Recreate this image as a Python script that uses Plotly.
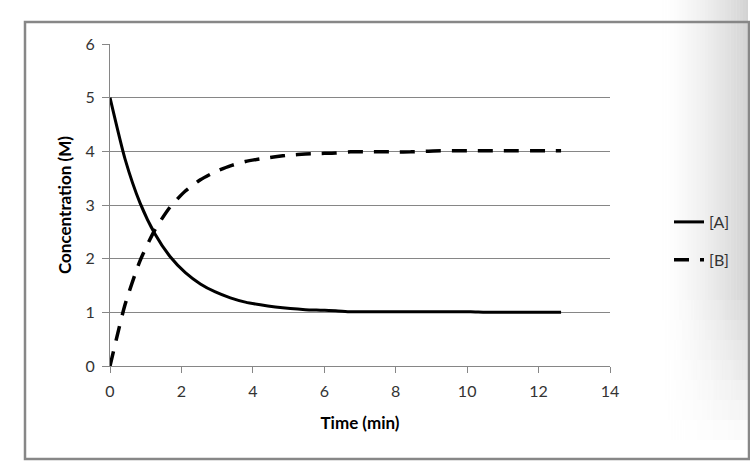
import plotly.graph_objects as go

# Data
time_min = [0.00, 0.42, 0.84, 1.26, 1.68, 2.11, 2.53, 2.95, 3.37, 3.79,
            4.21, 4.63, 5.05, 5.47, 5.89, 6.32, 6.74, 7.16, 7.58, 8.00,
            8.42, 8.84, 9.26, 9.68, 10.10, 10.52, 10.94, 11.37, 11.79, 12.21, 12.63]
conc_A = [5.00, 3.86, 3.04, 2.46, 2.04, 1.74, 1.53, 1.38, 1.27, 1.19,
          1.14, 1.10, 1.07, 1.05, 1.04, 1.03, 1.01, 1.01, 1.01, 1.01,
          1.01, 1.01, 1.01, 1.01, 1.01, 1.00, 1.00, 1.00, 1.00, 1.00, 1.00]
conc_B = [0.00, 1.14, 1.96, 2.54, 2.96, 3.26, 3.47, 3.62, 3.73, 3.81,
          3.86, 3.90, 3.93, 3.95, 3.96, 3.97, 3.99, 3.99, 3.99, 3.99,
          3.99, 4.00, 4.01, 4.01, 4.01, 4.01, 4.01, 4.01, 4.01, 4.01, 4.01]
series_names = ["[A]", "[B]"]
x_ticks = [0, 2, 4, 6, 8, 10, 12, 14]
y_ticks = [0, 1, 2, 3, 4, 5, 6]

FONT = "Lato, Calibri, Carlito, sans-serif"
GRID = "#868686"
TXT = "#333333"

fig = go.Figure()
fig.add_trace(go.Scatter(x=time_min, y=conc_A, mode="lines", name=series_names[0],
                         legendgroup="a",
                         line=dict(color="black", width=3, shape="spline", smoothing=0.6)))
fig.add_trace(go.Scatter(x=time_min, y=conc_B, mode="lines", name=series_names[1],
                         legendgroup="b",
                         line=dict(color="black", width=3.5, dash="15px,11px",
                                   shape="spline", smoothing=0.6)))

W, H = 750, 472
L, R, T, B = 110, 140, 44, 106
pw, ph = W - L - R, H - T - B


def px(xp):
    return (xp - L) / pw


def py(yp):
    return (H - B - yp) / ph


shapes = []
# right-side soft shadow (decorative, from the screenshot), fading downward
n = 30
ybands = [(0, 300, 1.0)] + [(300 + 20 * k, 320 + 20 * k, 1.0 - (k + 1) / 8) for k in range(7)]
for (ya, yb, f) in ybands:
    for i in range(n):
        x0 = 662 + (748 - 662) * i / n
        x1 = 662 + (748 - 662) * (i + 1) / n
        a = 0.30 * ((i + 1) / n) ** 1.5 * f
        shapes.append(dict(type="rect", xref="paper", yref="paper", layer="below",
                           x0=px(x0), x1=px(x1), y0=py(yb), y1=py(ya),
                           line=dict(width=0),
                           fillcolor="rgba(110,110,110,%.3f)" % a))
# chart border
shapes.append(dict(type="rect", xref="paper", yref="paper", layer="below",
                   x0=px(25), x1=px(749), y0=py(459), y1=py(22),
                   line=dict(color="#878787", width=2.5), fillcolor="rgba(0,0,0,0)"))

fig.update_layout(
    width=W, height=H,
    margin=dict(l=L, r=R, t=T, b=B, autoexpand=False),
    paper_bgcolor="white", plot_bgcolor="rgba(0,0,0,0)",
    font=dict(family=FONT, size=16, color=TXT),
    showlegend=True,
    legend=dict(x=px(669), y=py(205), xanchor="left", yanchor="top",
                bgcolor="rgba(0,0,0,0)", tracegroupgap=14,
                font=dict(family=FONT, size=16, color=TXT)),
    shapes=shapes,
    xaxis=dict(range=[0, 14], tickvals=x_ticks, showgrid=False, zeroline=False,
               automargin=False,
               showline=True, linecolor=GRID, linewidth=1,
               ticks="outside", ticklen=6, tickcolor=GRID, tickwidth=1,
               ticklabelstandoff=5,
               tickfont=dict(family=FONT, size=16, color=TXT),
               title=dict(text="<b>Time (min)</b>", standoff=17,
                          font=dict(family=FONT, size=17, color="black"))),
    yaxis=dict(range=[0, 6], tickvals=y_ticks, showgrid=True, gridcolor=GRID,
               gridwidth=1, zeroline=False, automargin=False,
               showline=True, linecolor=GRID, linewidth=1,
               ticks="outside", ticklen=7, tickcolor=GRID, tickwidth=1,
               ticklabelstandoff=4,
               tickfont=dict(family=FONT, size=16, color=TXT),
               title=dict(text="<b>Concentration (M)</b>", standoff=9,
                          font=dict(family=FONT, size=17, color="black"))),
)

fig.write_html("out.html",
               config={"displayModeBar": False},
               post_script="document.body.style.margin='0';"
                           "document.body.style.overflow='hidden';")
